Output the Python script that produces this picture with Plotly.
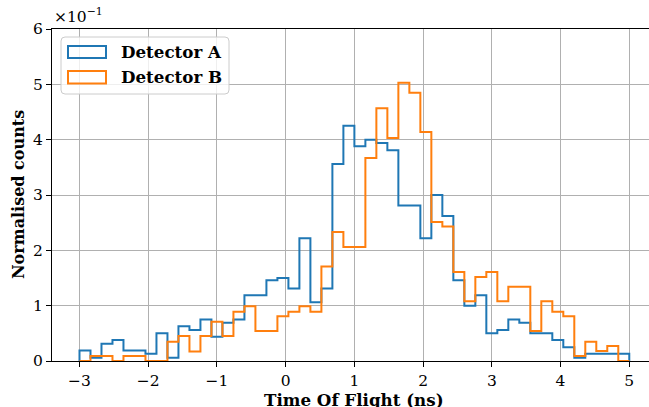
import numpy as np
import plotly.graph_objects as go

# Histogram bin edges: 50 bins spanning -3 ns to 5 ns
bin_edges = np.linspace(-3.0, 5.0, 51)

# Normalised counts per bin (probability density)
detector_a = [
    0.019, 0.006, 0.031, 0.038, 0.019, 0.019, 0.013, 0.050, 0.006, 0.063,
    0.056, 0.075, 0.044, 0.069, 0.075, 0.119, 0.119, 0.146, 0.150, 0.131,
    0.222, 0.106, 0.131, 0.356, 0.425, 0.388, 0.400, 0.394, 0.381, 0.281,
    0.281, 0.222, 0.300, 0.262, 0.146, 0.100, 0.119, 0.050, 0.056, 0.075,
    0.069, 0.050, 0.050, 0.038, 0.025, 0.006, 0.013, 0.013, 0.013, 0.013,
]
detector_b = [
    0.000, 0.009, 0.009, 0.000, 0.009, 0.009, 0.000, 0.000, 0.035, 0.045,
    0.017, 0.045, 0.071, 0.045, 0.089, 0.099, 0.054, 0.054, 0.081, 0.089,
    0.099, 0.089, 0.171, 0.233, 0.206, 0.206, 0.367, 0.457, 0.403, 0.503,
    0.485, 0.414, 0.251, 0.243, 0.161, 0.108, 0.152, 0.161, 0.108, 0.134,
    0.134, 0.054, 0.108, 0.089, 0.081, 0.009, 0.035, 0.018, 0.027, 0.000,
]

series_names = ["Detector A", "Detector B"]
series_colors = ["#1f77b4", "#ff7f0e"]

x_ticks = [-3, -2, -1, 0, 1, 2, 3, 4, 5]
x_tick_text = ["\u22123", "\u22122", "\u22121", "0", "1", "2", "3", "4", "5"]
y_ticks = [0.0, 0.1, 0.2, 0.3, 0.4, 0.5, 0.6]
y_tick_text = ["0", "1", "2", "3", "4", "5", "6"]

SERIF = "DejaVu Serif"


def step_outline(edges, values):
    """Outline of a step histogram: up from the baseline, across each bin, back down."""
    xs = [edges[0]] + list(edges[:-1]) + [edges[-1]]
    ys = [0.0] + list(values) + [0.0]
    return xs, ys


fig = go.Figure()
for name, vals, col in zip(series_names, [detector_a, detector_b], series_colors):
    xs, ys = step_outline(bin_edges, vals)
    fig.add_trace(go.Scatter(
        x=xs, y=ys, mode="lines", name=name,
        line=dict(color=col, width=2, shape="hv"),
        cliponaxis=False, showlegend=False,
    ))

W, H = 649, 407
ML, MR, MT, MB = 52, 0, 29, 46
PW, PH = W - ML - MR, H - MT - MB


def px_x(p):
    return (p - ML) / PW


def px_y(p):
    return (H - MB - p) / PH


fig.update_layout(
    width=W, height=H,
    margin=dict(l=ML, r=MR, t=MT, b=MB, pad=0),
    paper_bgcolor="white", plot_bgcolor="white",
    font=dict(family=SERIF, size=15, color="black"),
    showlegend=False,
)

fig.update_xaxes(
    range=[-3.4, 5.287],
    tickvals=x_ticks, ticktext=x_tick_text,
    showgrid=True, gridcolor="#b0b0b0", gridwidth=1,
    zeroline=False,
    showline=True, linecolor="black", linewidth=1, mirror=True,
    ticks="outside", ticklen=5, tickwidth=1, tickcolor="black",
    tickfont=dict(family=SERIF, size=15.5),
)
fig.update_yaxes(
    range=[0, 0.6],
    tickvals=y_ticks, ticktext=y_tick_text,
    showgrid=True, gridcolor="#b0b0b0", gridwidth=1,
    zeroline=False,
    showline=True, linecolor="black", linewidth=1, mirror=False,
    ticks="outside", ticklen=5, tickwidth=1, tickcolor="black",
    tickfont=dict(family=SERIF, size=15.5),
)

# Axis titles and the scale factor for the y axis
fig.add_annotation(
    xref="paper", yref="paper", x=px_x(354), y=px_y(388),
    xanchor="center", yanchor="top", showarrow=False,
    text="Time Of Flight (ns)",
    font=dict(family=SERIF, size=16.7, weight="bold"),
)
fig.add_annotation(
    xref="paper", yref="paper", x=px_x(18), y=px_y(195),
    xanchor="center", yanchor="middle", showarrow=False, textangle=-90,
    text="Normalised counts",
    font=dict(family=SERIF, size=16, weight="bold"),
)
fig.add_annotation(
    xref="paper", yref="paper", x=px_x(52), y=px_y(28),
    xanchor="left", yanchor="bottom", showarrow=False,
    text="\u00d710<sup>\u22121</sup>",
    font=dict(family=SERIF, size=15.5),
)

# Legend frame with rounded corners
x0, x1 = px_x(61), px_x(229)
y0, y1 = px_y(94), px_y(37)
rx, ry = 4 / PW, 4 / PH
path = (
    f"M {x0 + rx},{y0} L {x1 - rx},{y0} Q {x1},{y0} {x1},{y0 + ry} "
    f"L {x1},{y1 - ry} Q {x1},{y1} {x1 - rx},{y1} "
    f"L {x0 + rx},{y1} Q {x0},{y1} {x0},{y1 - ry} "
    f"L {x0},{y0 + ry} Q {x0},{y0} {x0 + rx},{y0} Z"
)
fig.add_shape(type="path", path=path, xref="paper", yref="paper",
              line=dict(color="#cccccc", width=1),
              fillcolor="rgba(255,255,255,0.8)", layer="above")

rows = [(46, 58), (71, 83.5)]
for (top, bot), name, col in zip(rows, series_names, series_colors):
    fig.add_shape(type="rect", xref="paper", yref="paper",
                  x0=px_x(68), x1=px_x(106), y0=px_y(bot), y1=px_y(top),
                  line=dict(color=col, width=2), fillcolor="rgba(0,0,0,0)",
                  layer="above")
    fig.add_annotation(
        xref="paper", yref="paper", x=px_x(119), y=px_y((top + bot) / 2),
        xanchor="left", yanchor="middle", showarrow=False, text=name,
        font=dict(family=SERIF, size=16.7, weight="bold"),
    )

fig.write_html("out.html")
